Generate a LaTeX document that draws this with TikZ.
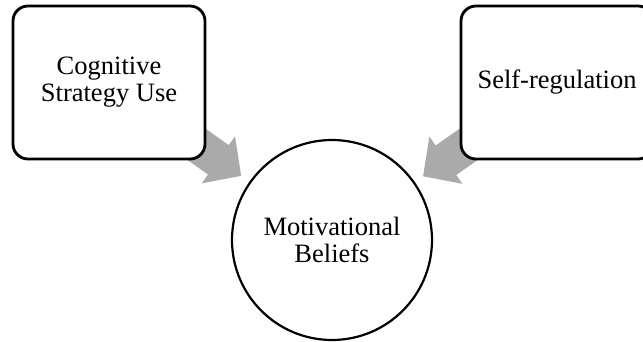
\documentclass[tikz,border=0pt]{standalone}
\usepackage{fontspec}
\setmainfont{Liberation Serif}
\usetikzlibrary{arrows.meta,backgrounds}
\definecolor{arrowgray}{RGB}{170,170,170}

\begin{document}
\begin{tikzpicture}[x=0.5pt,y=-0.5pt,
  factor/.style={draw, line width=1.4pt, rounded corners=7.5pt, fill=white,
    minimum width=96pt, minimum height=76.5pt, align=center, inner sep=0pt},
  belief/.style={draw, circle, line width=1.1pt, fill=white,
    minimum size=100pt, align=center, inner sep=0pt},
  link/.style={arrowgray, line width=18pt,
    -{Triangle[width=28pt,length=14pt]}, shorten >=5pt},
  font=\fontsize{13.25}{13.5}\selectfont]
  % frame
  \useasboundingbox (0,0) rectangle (643,342);

  % factors and outcome
  \node[factor] (cog) at (109,82.5) {Cognitive\\Strategy Use};
  \node[factor] (self) at (557,82.5) {Self-regulation};
  \node[belief] (mot) at (332,240) {Motivational\\Beliefs};

  % arrows behind the boxes
  \begin{scope}[on background layer]
    \draw[link] (cog.center) -- (mot);
    \draw[link] (self.center) -- (mot);
  \end{scope}
\end{tikzpicture}
\end{document}
